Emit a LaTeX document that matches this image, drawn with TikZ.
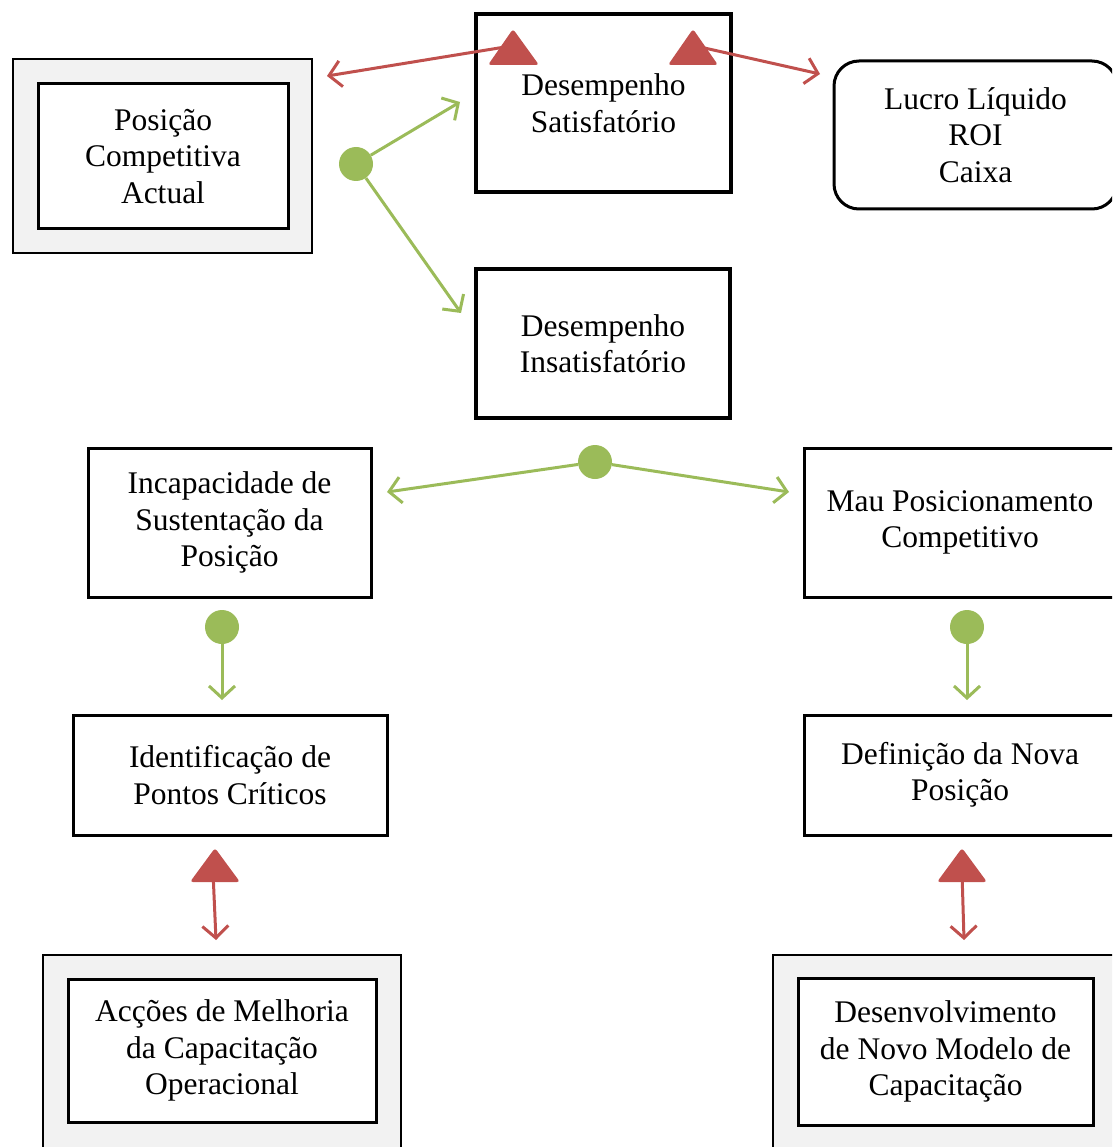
\documentclass[tikz,border=0pt]{standalone}
\usepackage{fontspec}
\setmainfont{Liberation Serif}
\usetikzlibrary{arrows.meta}
\definecolor{leaf}{HTML}{9BBB59}
\definecolor{brick}{HTML}{C0504D}
\definecolor{panel}{HTML}{F2F2F2}
\begin{document}
\begin{tikzpicture}[x=1pt,y=-1pt,
  txt/.style={font=\fontsize{31.5}{36.5}\selectfont, align=center},
  card/.style={txt, draw, fill=white, line width=3pt, inner sep=0pt},
  heavy/.style={card, line width=4pt},
  frame/.style={draw, fill=panel, line width=2.5pt, inner sep=0pt},
  dot/.style={circle, fill=leaf, minimum size=34pt, inner sep=0pt},
  flow/.style={draw=leaf, line width=3pt, -{Straight Barb[length=12pt,width=26pt]}},
  link/.style={draw=brick, line width=3pt, -{Straight Barb[length=12pt,width=26pt]}},
  marker/.style={fill=brick, rounded corners=3pt}
]
\useasboundingbox (0,0) rectangle (1112,1147);
\clip (0,0) rectangle (1112,1147);

% boxes
\node[frame, minimum width=299, minimum height=194] (posF) at (162.5,156) {};
\node[card, minimum width=250, minimum height=145] (pos) at (163,156.5) {Posição\\Competitiva\\Actual};
\node[heavy, minimum width=255, minimum height=178] (sat) at (603.5,103) {Desempenho\\Satisfatório};
\node[card, rounded corners=25pt, minimum width=283, minimum height=148] (lucro) at (975.5,135) {Lucro Líquido\\ROI\\Caixa};
\node[heavy, minimum width=254, minimum height=149] (insat) at (603,343.5) {Desempenho\\Insatisfatório};
\node[card, minimum width=283, minimum height=149] (incap) at (229.5,522.5) {Incapacidade de\\Sustentação da\\Posição};
\node[card, minimum width=312, minimum height=149] (mau) at (960,522.5) {Mau Posicionamento\\Competitivo};
\node[card, minimum width=314, minimum height=120] (ident) at (230,775) {Identificação de\\Pontos Críticos};
\node[card, minimum width=312, minimum height=120] (defin) at (960,775) {Definição da Nova\\Posição};
\node[frame, minimum width=358, minimum height=200] (accF) at (222,1055) {};
\node[card, minimum width=308, minimum height=143] (acc) at (222,1050.5) {Acções de Melhoria\\da Capacitação\\Operacional};
\node[frame, minimum width=345, minimum height=200] (devF) at (945.5,1055) {};
\node[card, minimum width=295, minimum height=147] (dev) at (945.5,1051.5) {Desenvolvimento\\de Novo Modelo de\\Capacitação};

% green branch points and arrows
\node[dot] (d1) at (356,164) {};
\node[dot] (d2) at (595,462) {};
\node[dot] (d3) at (222,627) {};
\node[dot] (d4) at (967,627) {};
\coordinate (g1) at (460,102);
\coordinate (g2) at (461,313);
\coordinate (g3) at (387,492);
\coordinate (g4) at (789,492);
\coordinate (g5) at (222,700);
\coordinate (g6) at (967,700);
\draw[flow] (d1) -- (g1);
\draw[flow] (d1) -- (g2);
\draw[flow] (d2) -- (g3);
\draw[flow] (d2) -- (g4);
\draw[flow] (d3) -- (g5);
\draw[flow] (d4) -- (g6);

% red links with triangle markers
\coordinate (r1) at (505,47);
\coordinate (r1e) at (327,76);
\coordinate (r2) at (700,47);
\coordinate (r2e) at (820,74);
\coordinate (r3) at (213,872);
\coordinate (r3e) at (216,940);
\coordinate (r4) at (962,872);
\coordinate (r4e) at (964,940);
\draw[link] (r1) -- (r1e);
\draw[link] (r2) -- (r2e);
\draw[link] (r3) -- (r3e);
\draw[link] (r4) -- (r4e);
\fill[marker] (488,65) -- (513,29) -- (539,65) -- cycle;
\fill[marker] (668,65) -- (693,29) -- (718,65) -- cycle;
\fill[marker] (190,882) -- (215,848) -- (240,882) -- cycle;
\fill[marker] (937,882) -- (962,848) -- (987,882) -- cycle;
\end{tikzpicture}
\end{document}
